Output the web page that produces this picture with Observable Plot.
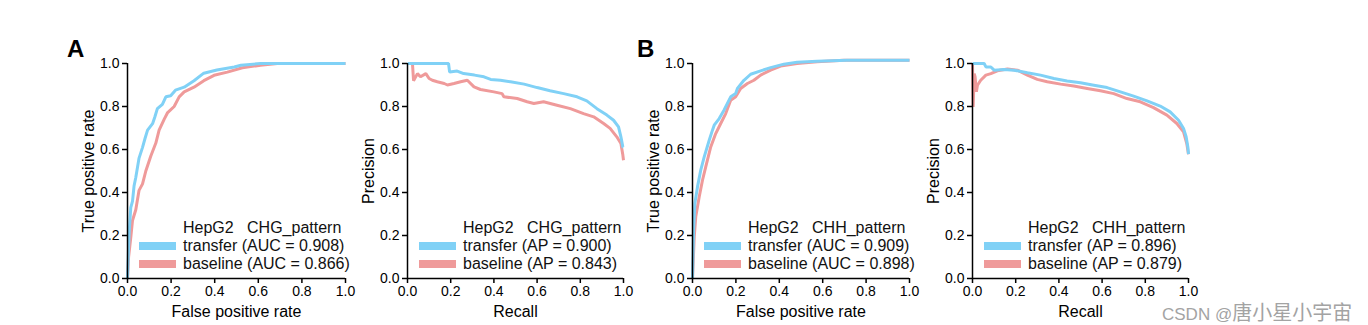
<!DOCTYPE html>
<html>
<head>
<meta charset="utf-8">
<script src="https://cdn.jsdelivr.net/npm/d3@7"></script>
<script src="https://cdn.jsdelivr.net/npm/@observablehq/plot@0.6"></script>
<style>
  html, body { margin: 0; padding: 0; background: #fff; }
  #wrap { position: relative; width: 1368px; height: 325px; overflow: hidden; font-family: 'Liberation Sans', Arial, sans-serif; }
  .panel { position: absolute; top: 0; }
  .tag { position: absolute; font-weight: bold; font-size: 24px; line-height: 24px; }
  .legend { position: absolute; font-size: 16px; line-height: 18px; color: #111; white-space: pre; }
  .legend .row { height: 18px; display: flex; align-items: center; }
  .legend .sw { display: inline-block; width: 37px; height: 8.5px; margin-right: 7px; }
  .legend .head { padding-left: 44px; }
  .wm { position: absolute; left: 1162px; top: 297px; color: #a3a3a3; font-size: 17px; white-space: nowrap; }
  .wm .cjk { font-family: 'Noto Sans CJK SC', sans-serif; font-size: 20px; }
</style>
</head>
<body>
<div id="wrap"></div>
<script>
// ---------- data ----------
const seriesNames = ["transfer", "baseline"];
const seriesColors = ["#80d1f6", "#ef9a9a"];
const tickValues = [0, 0.2, 0.4, 0.6, 0.8, 1.0];
const panelTags = ["A", "B"];
const legendTitles = ["HepG2   CHG_pattern", "HepG2   CHG_pattern", "HepG2   CHH_pattern", "HepG2   CHH_pattern"];
const xLabels = ["False positive rate", "Recall", "False positive rate", "Recall"];
const yLabels = ["True positive rate", "Precision", "True positive rate", "Precision"];
const metricNames = ["AUC", "AP", "AUC", "AP"];
const transferScores = ["0.908", "0.900", "0.909", "0.896"];
const baselineScores = ["0.866", "0.843", "0.898", "0.879"];

// ROC, CHG pattern: [fpr, tpr]
const rocChgTransfer = [[0,0],[0.004,0.12],[0.008,0.22],[0.015,0.33],[0.023,0.36],[0.03,0.43],[0.038,0.47],[0.053,0.56],[0.069,0.61],[0.08,0.65],[0.092,0.69],[0.115,0.72],[0.125,0.75],[0.137,0.79],[0.16,0.81],[0.176,0.845],[0.198,0.85],[0.22,0.876],[0.26,0.89],[0.305,0.92],[0.35,0.955],[0.41,0.97],[0.49,0.984],[0.52,0.992],[0.61,1.0],[1.0,1.0]];
const rocChgBaseline = [[0,0],[0.005,0.1],[0.015,0.19],[0.023,0.27],[0.038,0.32],[0.053,0.41],[0.069,0.44],[0.084,0.5],[0.107,0.57],[0.13,0.63],[0.145,0.69],[0.168,0.74],[0.183,0.77],[0.214,0.8],[0.237,0.845],[0.26,0.868],[0.305,0.89],[0.35,0.92],[0.397,0.945],[0.458,0.96],[0.527,0.98],[0.61,0.992],[0.687,1.0],[1.0,1.0]];
// PR, CHG pattern: [recall, precision]
const prChgTransfer = [[0,1.0],[0.19,1.0],[0.195,0.96],[0.23,0.965],[0.26,0.953],[0.31,0.946],[0.354,0.938],[0.385,0.926],[0.43,0.922],[0.477,0.915],[0.54,0.904],[0.6,0.888],[0.66,0.873],[0.723,0.86],[0.785,0.845],[0.83,0.826],[0.877,0.79],[0.923,0.76],[0.954,0.736],[0.977,0.705],[0.988,0.659],[0.997,0.612],[1.0,0.61]];
const prChgBaseline = [[0.023,1.0],[0.028,0.92],[0.046,0.953],[0.06,0.938],[0.085,0.953],[0.1,0.93],[0.115,0.922],[0.138,0.915],[0.17,0.907],[0.185,0.9],[0.215,0.907],[0.246,0.915],[0.277,0.922],[0.308,0.891],[0.338,0.879],[0.4,0.868],[0.438,0.86],[0.446,0.845],[0.508,0.837],[0.554,0.822],[0.585,0.814],[0.63,0.822],[0.692,0.806],[0.754,0.79],[0.815,0.767],[0.862,0.752],[0.908,0.721],[0.938,0.698],[0.969,0.659],[0.988,0.628],[0.997,0.574],[1.0,0.55]];
// ROC, CHH pattern
const rocChhTransfer = [[0,0],[0.005,0.225],[0.011,0.35],[0.023,0.426],[0.038,0.504],[0.054,0.566],[0.077,0.643],[0.092,0.69],[0.1,0.713],[0.123,0.744],[0.145,0.783],[0.176,0.845],[0.199,0.86],[0.207,0.884],[0.237,0.922],[0.268,0.95],[0.314,0.966],[0.36,0.981],[0.421,0.997],[0.482,1.006],[0.574,1.01],[0.712,1.015],[1.0,1.015]];
const rocChhBaseline = [[0,0],[0.008,0.194],[0.015,0.287],[0.031,0.38],[0.046,0.457],[0.061,0.519],[0.084,0.612],[0.107,0.674],[0.13,0.721],[0.153,0.767],[0.176,0.829],[0.199,0.845],[0.222,0.884],[0.253,0.907],[0.283,0.922],[0.314,0.946],[0.36,0.969],[0.406,0.988],[0.482,1.0],[0.574,1.008],[0.697,1.015],[1.0,1.015]];
// PR, CHH pattern
const prChhTransfer = [[0,1.0],[0.054,1.0],[0.062,0.984],[0.085,0.984],[0.1,0.969],[0.146,0.972],[0.192,0.969],[0.254,0.957],[0.315,0.946],[0.377,0.93],[0.438,0.919],[0.5,0.91],[0.562,0.899],[0.623,0.888],[0.685,0.868],[0.746,0.848],[0.808,0.826],[0.869,0.802],[0.915,0.775],[0.954,0.736],[0.977,0.698],[0.989,0.659],[0.997,0.612],[1.0,0.578]];
const prChhBaseline = [[0,1.0],[0.003,0.798],[0.008,0.953],[0.012,0.938],[0.018,0.868],[0.023,0.899],[0.038,0.922],[0.062,0.946],[0.085,0.953],[0.115,0.966],[0.162,0.974],[0.208,0.969],[0.254,0.946],[0.3,0.926],[0.346,0.915],[0.408,0.904],[0.469,0.895],[0.531,0.884],[0.592,0.873],[0.654,0.86],[0.715,0.837],[0.777,0.822],[0.838,0.795],[0.9,0.76],[0.946,0.721],[0.977,0.682],[0.992,0.628],[1.0,0.578]];

const curveSets = [
  [rocChgTransfer, rocChgBaseline],
  [prChgTransfer, prChgBaseline],
  [rocChhTransfer, rocChhBaseline],
  [prChhTransfer, prChhBaseline]
];

// ---------- layout ----------
const FONT = "'Liberation Sans', Arial, sans-serif";
const svgLefts = [60, 340, 625, 905];
const marginRights = [15, 17, 16, 17];
const ML = 67, MT = 63, MB = 47, W = 300, H = 325;
const tagPos = [[67, 37], [637, 37]];

const wrap = document.getElementById("wrap");

curveSets.forEach((pair, i) => {
  const rows = [];
  // draw baseline first, transfer on top
  [1, 0].forEach(s => pair[s].forEach(([x, y]) => rows.push({x, y, series: seriesNames[s]})));
  const chart = Plot.plot({
    width: W, height: H,
    marginLeft: ML, marginRight: marginRights[i], marginTop: MT, marginBottom: MB,
    style: {fontFamily: FONT, fontSize: "14px", background: "transparent", color: "#000", overflow: "visible"},
    x: {domain: [0, 1], axis: null},
    y: {domain: [0, 1], axis: null},
    color: {domain: seriesNames, range: seriesColors},
    marks: [
      Plot.line(rows, {x: "x", y: "y", z: "series", stroke: "series", strokeWidth: 3, strokeLinejoin: "miter", strokeLinecap: "butt"}),
      Plot.ruleX([0], {stroke: "#000", strokeWidth: 1.5}),
      Plot.ruleY([0], {stroke: "#000", strokeWidth: 1.5}),
      Plot.axisX(tickValues, {tickSize: 5, tickPadding: 3, strokeWidth: 1.5, fontSize: 14, tickFormat: d => d.toFixed(1), label: null}),
      Plot.axisY(tickValues, {tickSize: 5, tickPadding: 3, strokeWidth: 1.5, fontSize: 14, tickFormat: d => d.toFixed(1), label: null}),
      Plot.text([xLabels[i]], {text: d => d, frameAnchor: "bottom", dy: 33, fontSize: 16, textAnchor: "middle", lineAnchor: "middle"}),
      Plot.text([yLabels[i]], {text: d => d, frameAnchor: "left", dx: -39, rotate: -90, fontSize: 16, textAnchor: "middle", lineAnchor: "middle"})
    ]
  });
  const holder = document.createElement("div");
  holder.className = "panel";
  holder.style.left = svgLefts[i] + "px";
  holder.style.width = W + "px";
  holder.appendChild(chart);
  wrap.appendChild(holder);

  // legend
  const lg = document.createElement("div");
  lg.className = "legend";
  lg.style.left = (svgLefts[i] + ML + 12) + "px";
  lg.style.top = "219px";
  const head = document.createElement("div");
  head.className = "row head";
  head.textContent = legendTitles[i];
  lg.appendChild(head);
  const scores = [transferScores[i], baselineScores[i]];
  seriesNames.forEach((name, s) => {
    const r = document.createElement("div");
    r.className = "row";
    const sw = document.createElement("span");
    sw.className = "sw";
    sw.style.background = seriesColors[s];
    r.appendChild(sw);
    r.appendChild(document.createTextNode(`${name} (${metricNames[i]} = ${scores[s]})`));
    lg.appendChild(r);
  });
  wrap.appendChild(lg);
});

panelTags.forEach((t, k) => {
  const d = document.createElement("div");
  d.className = "tag";
  d.textContent = t;
  d.style.left = tagPos[k][0] + "px";
  d.style.top = tagPos[k][1] + "px";
  wrap.appendChild(d);
});

const wm = document.createElement("div");
wm.className = "wm";
wm.innerHTML = 'CSDN @<span class="cjk">唐小星小宇宙</span>';
wrap.appendChild(wm);
</script>
</body>
</html>
